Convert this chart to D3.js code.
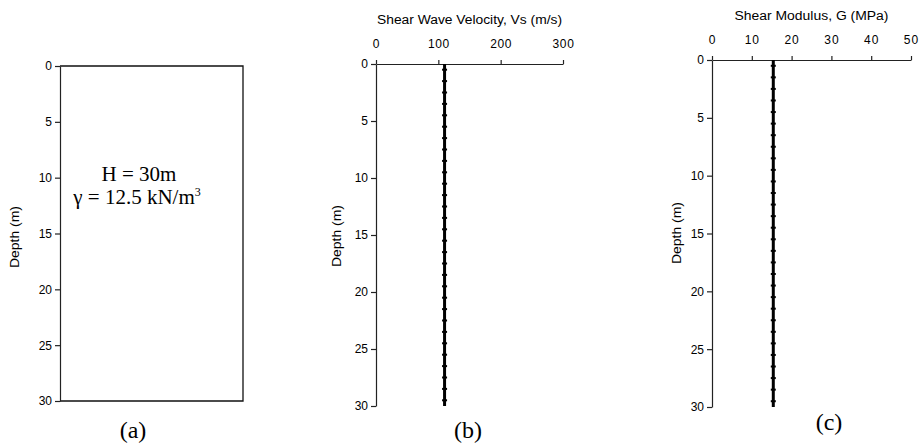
<!DOCTYPE html>
<html>
<head>
<meta charset="utf-8">
<script src="https://cdn.jsdelivr.net/npm/d3@7/dist/d3.min.js"></script>
<style>
  html, body { margin: 0; padding: 0; background: #fff; }
  svg { display: block; }
  .axis text { font-family: "Liberation Sans", Arial, sans-serif; font-size: 12px; fill: #000; }
  .axis path, .axis line { stroke: #222; stroke-width: 1.2; }
  .lbl { font-family: "Liberation Sans", Arial, sans-serif; font-size: 12px; fill: #000; }
  .serif { font-family: "Liberation Serif", "Times New Roman", serif; fill: #000; }
</style>
</head>
<body>
<svg id="chart" width="920" height="446"></svg>
<script>
// Soil column: 30 one-metre layers, value read at each layer midpoint
const layerMid = [0.5, 1.5, 2.5, 3.5, 4.5, 5.5, 6.5, 7.5, 8.5, 9.5,
                  10.5, 11.5, 12.5, 13.5, 14.5, 15.5, 16.5, 17.5, 18.5, 19.5,
                  20.5, 21.5, 22.5, 23.5, 24.5, 25.5, 26.5, 27.5, 28.5, 29.5];
const vsValues = [110, 110, 110, 110, 110, 110, 110, 110, 110, 110,
                  110, 110, 110, 110, 110, 110, 110, 110, 110, 110,
                  110, 110, 110, 110, 110, 110, 110, 110, 110, 110];
const gValues = [15.4, 15.4, 15.4, 15.4, 15.4, 15.4, 15.4, 15.4, 15.4, 15.4,
                 15.4, 15.4, 15.4, 15.4, 15.4, 15.4, 15.4, 15.4, 15.4, 15.4,
                 15.4, 15.4, 15.4, 15.4, 15.4, 15.4, 15.4, 15.4, 15.4, 15.4];
const layerThickness = 1;
const depthDomain = [0, 30];
const depthTicks = [0, 5, 10, 15, 20, 25, 30];
const vsTicks = [0, 100, 200, 300];
const gTicks = [0, 10, 20, 30, 40, 50];

const svg = d3.select("#chart");

function depthAxis(g, y, x0, labelX, labelY) {
  const ax = g.append("g").attr("class", "axis")
    .attr("transform", `translate(${x0},0)`)
    .call(d3.axisLeft(y).tickValues(depthTicks).tickSize(5).tickSizeOuter(0).tickPadding(3));
  ax.select(".domain").attr("stroke-width", 1.6);
  g.append("text").attr("class", "lbl")
    .attr("transform", `translate(${labelX},${labelY}) rotate(-90)`)
    .attr("text-anchor", "middle")
    .attr("textLength", 62).attr("lengthAdjust", "spacingAndGlyphs")
    .text("Depth (m)");
}

// ---- (a) soil column ----
{
  const g = svg.append("g");
  const y = d3.scaleLinear().domain(depthDomain).range([66, 401]);
  const xl = 60, xr = 243;
  g.append("path")
    .attr("d", `M${xl},${y(0)}H${xr}V${y(30)}H${xl}`)
    .attr("fill", "none").attr("stroke", "#111").attr("stroke-width", 1.3);
  depthAxis(g, y, xl, 19, 237);
  g.append("text").attr("class", "serif")
    .attr("x", 139).attr("y", 181).attr("text-anchor", "middle")
    .attr("font-size", 21).text("H = 30m");
  const t2 = g.append("text").attr("class", "serif")
    .attr("x", 137).attr("y", 204).attr("text-anchor", "middle")
    .attr("font-size", 21);
  t2.append("tspan").text("γ = 12.5 kN/m");
  t2.append("tspan").attr("font-size", 12).attr("dy", -8).text("3");
  g.append("text").attr("class", "serif")
    .attr("x", 133).attr("y", 438).attr("text-anchor", "middle")
    .attr("font-size", 24).text("(a)");
}

// Profile panel: top value axis, left depth axis, layered profile line
function profilePanel(opt) {
  const g = svg.append("g");
  const x = d3.scaleLinear().domain(opt.xDomain).range(opt.xRange);
  const y = d3.scaleLinear().domain(depthDomain).range(opt.yRange);
  const top = g.append("g").attr("class", "axis")
    .attr("transform", `translate(0,${opt.yRange[0]})`)
    .call(d3.axisTop(x).tickValues(opt.ticks).tickSize(4).tickSizeOuter(0).tickPadding(opt.topPad));
  top.selectAll("text").attr("font-size", opt.tickFont).attr("letter-spacing", opt.ls);
  depthAxis(g, y, opt.xRange[0], opt.depthLabelX, opt.depthLabelY);
  g.append("text").attr("class", "lbl")
    .attr("x", (opt.xRange[0] + opt.xRange[1]) / 2).attr("y", opt.titleY)
    .attr("text-anchor", "middle").attr("font-size", 13.5)
    .attr("textLength", opt.titleLen).attr("lengthAdjust", "spacingAndGlyphs")
    .text(opt.title);

  // each layer spans midpoint ± half its thickness
  const segs = layerMid.map((d, i) => ({ top: d - layerThickness / 2, bot: d + layerThickness / 2, v: opt.values[i], mid: d }));
  const line = d3.line().x(p => x(p[0])).y(p => y(p[1]));
  const pts = [];
  segs.forEach(s => { pts.push([s.v, s.top]); pts.push([s.v, s.bot]); });
  g.append("path").attr("d", line(pts))
    .attr("fill", "none").attr("stroke", "#000").attr("stroke-width", 3);
  g.selectAll(".mk").data(segs).join("rect").attr("class", "mk")
    .attr("x", s => x(s.v) - 2.5).attr("y", s => y(s.mid) - 1)
    .attr("width", 5).attr("height", 2).attr("fill", "#000");

  g.append("text").attr("class", "serif")
    .attr("x", opt.capX).attr("y", opt.capY).attr("text-anchor", "middle")
    .attr("font-size", 24).text(opt.caption);
}

// ---- (b) shear wave velocity ----
profilePanel({
  values: vsValues, xDomain: [0, 300], xRange: [376, 563], yRange: [64, 406],
  ticks: vsTicks, topPad: 12, ls: 0.6, tickFont: 12.5,
  title: "Shear Wave Velocity, Vs (m/s)", titleY: 24, titleLen: 185,
  depthLabelX: 341, depthLabelY: 236,
  caption: "(b)", capX: 468, capY: 438
});

// ---- (c) shear modulus ----
profilePanel({
  values: gValues, xDomain: [0, 50], xRange: [712, 911], yRange: [60, 407],
  ticks: gTicks, topPad: 12, ls: 1, tickFont: 13,
  title: "Shear Modulus, G (MPa)", titleY: 20, titleLen: 154,
  depthLabelX: 681, depthLabelY: 233,
  caption: "(c)", capX: 829, capY: 430
});
</script>
</body>
</html>
